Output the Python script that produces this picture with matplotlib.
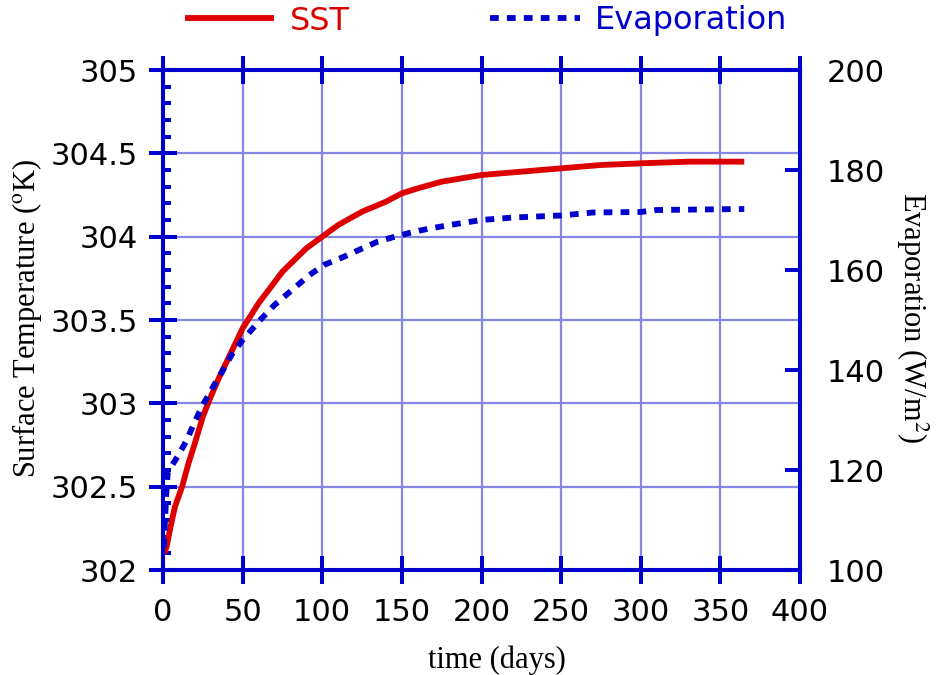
import matplotlib
matplotlib.use('Agg')
import matplotlib.pyplot as plt
import numpy as np
from matplotlib.ticker import MultipleLocator

# Data
days_sst = [1, 2.5, 5, 7.5, 12, 16, 20, 25, 30, 35, 40, 50, 60, 75, 90, 100,
            110, 125, 140, 150, 160, 175, 200, 225, 250, 275, 300, 330, 365]
sst = [302.10, 302.15, 302.27, 302.38, 302.50, 302.64, 302.76, 302.92, 303.04,
       303.15, 303.25, 303.45, 303.60, 303.79, 303.93, 304.00, 304.07, 304.15,
       304.21, 304.26, 304.29, 304.33, 304.37, 304.39, 304.41, 304.43, 304.44,
       304.45, 304.45]

days_evap = [0.5, 2, 3, 9, 15, 19, 25, 31, 37, 43, 50, 61, 70, 81, 92, 101, 114,
             125, 135, 146, 157, 166, 180, 200, 220, 250, 270, 300, 310, 365]
evap = [104.5, 115, 119.6, 122.6, 126, 129, 133, 136.4, 139.6, 143, 146, 150,
        153, 156, 159, 161, 162.7, 164.3, 165.7, 166.7, 167.6, 168.2, 169, 170,
        170.5, 170.9, 171.5, 171.6, 172, 172.2]

x_ticks = [0, 50, 100, 150, 200, 250, 300, 350, 400]
t_ticks = [302, 302.5, 303, 303.5, 304, 304.5, 305]
t_labels = ['302', '302.5', '303', '303.5', '304', '304.5', '305']
e_ticks = [100, 120, 140, 160, 180, 200]

red = '#dd0000'
blue = '#0000cc'
gridc = '#8686e6'

plt.rcParams['mathtext.fontset'] = 'stix'
plt.rcParams['font.family'] = 'DejaVu Sans'

fig = plt.figure(figsize=(9.36, 6.75), dpi=100)
ax = fig.add_axes([163 / 936, 1 - 570 / 675, 637 / 936, 500 / 675])
ax2 = ax.twinx()

l1, = ax.plot(days_sst, sst, color=red, lw=4.2, solid_capstyle='butt')
l2, = ax2.plot(days_evap, evap, color=blue, lw=4.2, linestyle=(0, (1.5, 1.4)))

ax.set_xlim(0, 400)
ax.set_ylim(302, 305)
ax.set_xticks(x_ticks)
ax.set_yticks(t_ticks)
ax.set_yticklabels(t_labels)
ax.yaxis.set_minor_locator(MultipleLocator(0.1))
ax.grid(True, color=gridc, lw=1.6)
ax.set_axisbelow(True)

ax.tick_params(axis='both', which='major', direction='inout', length=20,
               width=2.9, color=blue, labelsize=22, top=True, right=False)
ax.tick_params(axis='x', pad=10)
ax.tick_params(axis='y', pad=8)
ax.tick_params(axis='y', which='minor', direction='in', length=6, width=2.9,
               color=blue, right=False)

ax2.set_ylim(100, 200)
ax2.set_yticks(e_ticks)
ax2.tick_params(axis='y', direction='in', length=11, width=2.9, color=blue,
                labelsize=22, pad=19)

for a in (ax, ax2):
    for s in a.spines.values():
        s.set_color(blue)
        s.set_linewidth(2.9)

fig.text(27 / 936, 1 - 318 / 675, 'Surface Temperature ($^{\\mathrm{o}}$K)',
         rotation=90, ha='center', va='center', fontsize=22,
         family='Liberation Serif')
fig.text(912 / 936, 1 - 318 / 675, 'Evaporation (W/m$^{2}$)',
         rotation=-90, ha='center', va='center', fontsize=22,
         family='Liberation Serif')
fig.text(497 / 936, 1 - 660 / 675, 'time (days)', ha='center', va='center',
         fontsize=22, family='Liberation Serif')

fig.legend([l1, l2], ['SST', 'Evaporation'], loc='center',
           bbox_to_anchor=(486 / 936, 1 - 21 / 675), ncol=2, frameon=False,
           fontsize=23, handlelength=2.8, handletextpad=0.48,
           columnspacing=4.4, labelcolor=[red, blue])

fig.savefig('out.png', dpi=100)
